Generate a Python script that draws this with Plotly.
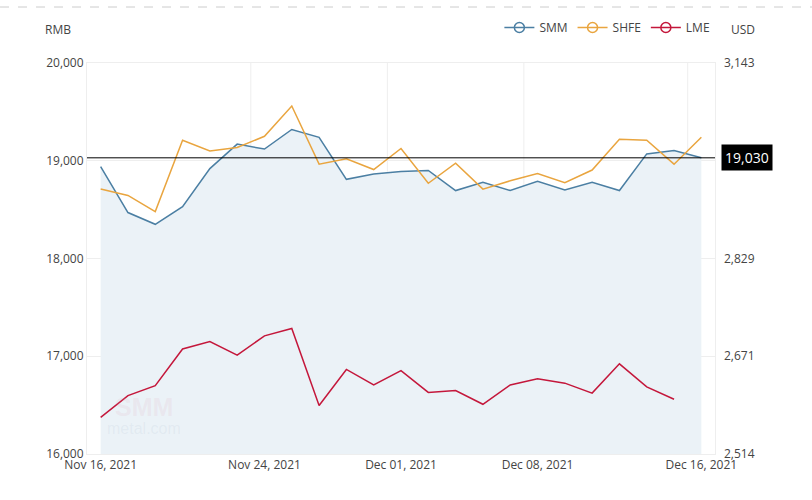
import plotly.graph_objects as go

dates = ["2021-11-16", "2021-11-17", "2021-11-18", "2021-11-19", "2021-11-22",
         "2021-11-23", "2021-11-24", "2021-11-25", "2021-11-26", "2021-11-29",
         "2021-11-30", "2021-12-01", "2021-12-02", "2021-12-03", "2021-12-06",
         "2021-12-07", "2021-12-08", "2021-12-09", "2021-12-10", "2021-12-13",
         "2021-12-14", "2021-12-15", "2021-12-16"]
smm = [18940, 18470, 18350, 18530, 18920, 19170, 19120, 19320, 19240, 18810,
       18865, 18890, 18900, 18695, 18780, 18695, 18790, 18700, 18780, 18695,
       19070, 19105, 19030]
shfe = [18710, 18645, 18480, 19210, 19100, 19135, 19250, 19560, 18965, 19020,
        18910, 19125, 18770, 18975, 18710, 18795, 18870, 18775, 18905, 19220,
        19210, 18965, 19240]
lme = [2573, 2608, 2624, 2683, 2695, 2673, 2704, 2716, 2592, 2650,
       2625, 2648, 2613, 2616, 2594, 2625, 2635, 2628, 2612, 2659,
       2622, 2602, None]

tick_dates = ["2021-11-16", "2021-11-24", "2021-12-01", "2021-12-08", "2021-12-16"]
tick_text = ["Nov 16, 2021", "Nov 24, 2021", "Dec 01, 2021", "Dec 08, 2021", "Dec 16, 2021"]
left_ticks = [16000, 17000, 18000, 19000, 20000]
right_ticks = [2514, 2671.25, 2828.5, 2985.75, 3143]
# the 2,986 label sits under the 19,030 price tag in the reference
right_text = ["2,514", "2,671", "2,829", "", "3,143"]

C_SMM = "#4b7fa3"
C_SHFE = "#e9a53f"
C_LME = "#c4173b"
FONT = "Open Sans"
TXT = "#444444"

fig = go.Figure()
fig.add_trace(go.Scatter(x=dates, y=smm, mode="lines", line=dict(color=C_SMM, width=1.5),
                         fill="tozeroy", fillcolor="#ebf2f7", showlegend=False))
fig.add_trace(go.Scatter(x=dates, y=shfe, mode="lines", line=dict(color=C_SHFE, width=1.5),
                         showlegend=False))
fig.add_trace(go.Scatter(x=dates, y=lme, mode="lines", line=dict(color=C_LME, width=1.5),
                         yaxis="y2", showlegend=False))
for name, col in [("SMM", C_SMM), ("SHFE", C_SHFE), ("LME", C_LME)]:
    fig.add_trace(go.Scatter(x=[None], y=[None], mode="lines+markers", name=name,
                             line=dict(color=col, width=1.5),
                             marker=dict(symbol="circle-open", size=10, color=col,
                                         line=dict(width=1.5, color=col))))

shapes = []
for i, d in enumerate(dates):
    if d in tick_dates[1:]:
        shapes.append(dict(type="line", xref="x", yref="paper", x0=i - 0.5, x1=i - 0.5,
                           y0=0, y1=1, line=dict(color="#eeeeee", width=1), layer="below"))
shapes.append(dict(type="line", xref="paper", yref="y", x0=0, x1=1, y0=smm[-1], y1=smm[-1],
                   line=dict(color="#000000", width=1)))
shapes.append(dict(type="line", xref="paper", yref="paper", x0=-0.1385, x1=1.1545,
                   y0=1.1432, y1=1.1432, line=dict(color="#cccccc", width=1, dash="dash")))

annotations = [
    dict(text="RMB", xref="paper", yref="paper", x=-0.0454, y=1.0844, showarrow=False,
         xanchor="center", yanchor="middle", font=dict(family=FONT, size=12, color=TXT)),
    dict(text="USD", xref="paper", yref="paper", x=1.0446, y=1.0844, showarrow=False,
         xanchor="center", yanchor="middle", font=dict(family=FONT, size=12, color=TXT)),
    dict(text=f"{smm[-1]:,}", xref="paper", yref="y", x=1, y=smm[-1], xanchor="left",
         yanchor="middle", xshift=6, showarrow=False, bgcolor="#000000", borderpad=3,
         font=dict(family=FONT, size=14, color="#ffffff")),
    dict(text="<b>SMM</b>", xref="paper", yref="paper", x=0.0414, y=0.12, xanchor="left",
         yanchor="middle", showarrow=False,
         font=dict(family="Arial", size=25, color="rgba(220,160,175,0.14)")),
    dict(text="metal.com", xref="paper", yref="paper", x=0.029, y=0.064, xanchor="left",
         yanchor="middle", showarrow=False,
         font=dict(family="Arial", size=16, color="rgba(170,185,200,0.14)")),
]

fig.update_layout(
    width=812, height=500,
    margin=dict(l=87, r=97, t=63, b=46),
    plot_bgcolor="#ffffff", paper_bgcolor="#ffffff",
    font=dict(family=FONT, size=12, color=TXT),
    xaxis=dict(type="category", range=[-0.5, 22.5], tickvals=tick_dates, ticktext=tick_text,
               showgrid=False, zeroline=False, showline=True, mirror=True,
               linecolor="#eeeeee", ticks="", tickfont=dict(size=12, color=TXT)),
    yaxis=dict(range=[16000, 20000], tickvals=left_ticks, tickformat=",",
               showgrid=True, gridcolor="#eeeeee", zeroline=False, showline=True,
               mirror=True, linecolor="#eeeeee", ticks="", tickfont=dict(size=12, color=TXT)),
    yaxis2=dict(range=[2514, 3143], tickvals=right_ticks, ticktext=right_text, overlaying="y",
                side="right", showgrid=False, zeroline=False, ticks="", ticklabelstandoff=8,
                tickfont=dict(size=12, color=TXT)),
    legend=dict(orientation="h", xref="container", yref="container", x=0.615, y=0.945,
                xanchor="left", yanchor="middle", font=dict(size=12, color=TXT),
                itemwidth=30, bgcolor="rgba(0,0,0,0)"),
    shapes=shapes, annotations=annotations,
    showlegend=True,
)

fig.write_html("out.html")
